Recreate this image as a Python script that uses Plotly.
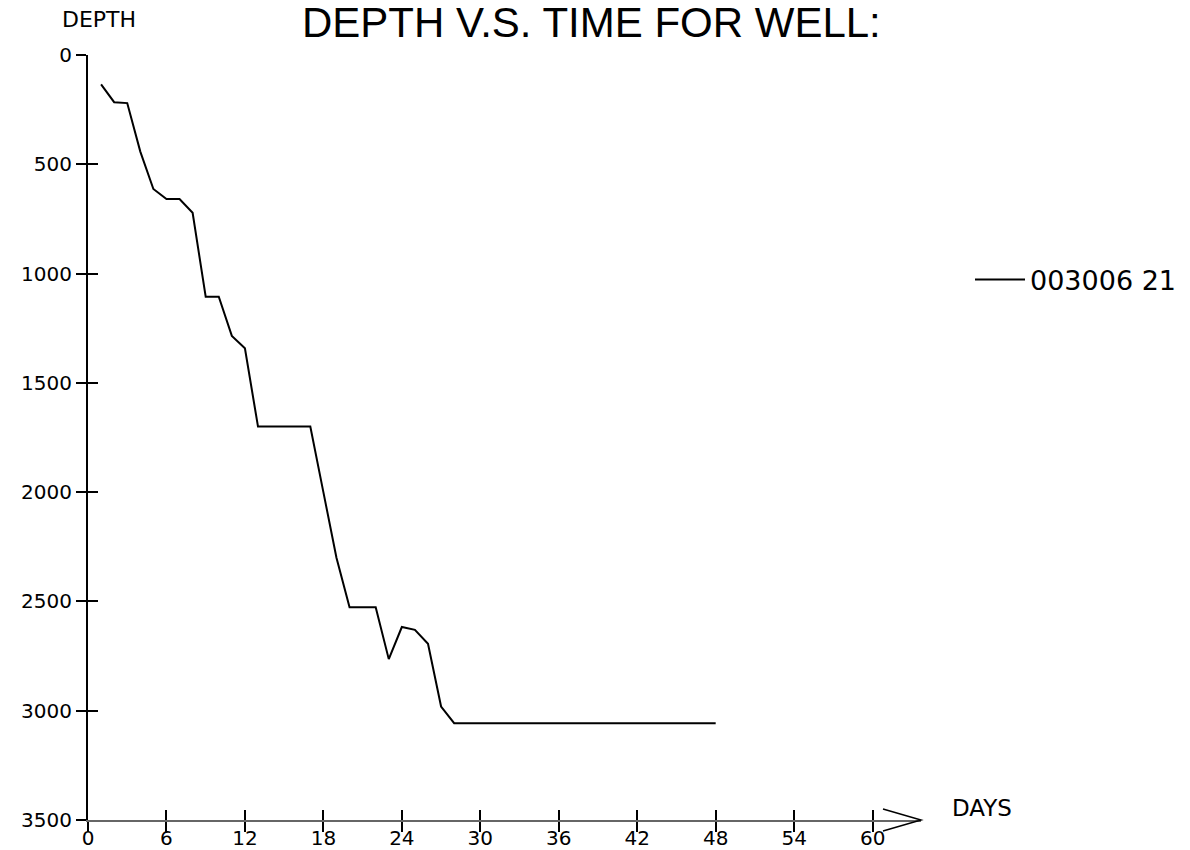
import plotly.graph_objects as go

# ---- data ----
days = list(range(1, 49))
depth = [134, 216, 220, 442, 613, 659, 659, 722, 1106, 1106,
         1285, 1342, 1700, 1700, 1700, 1700, 1700, 2000, 2300, 2527,
         2527, 2527, 2764, 2617, 2630, 2694, 2981, 3057, 3057, 3057,
         3057, 3057, 3057, 3057, 3057, 3057, 3057, 3057, 3057, 3057,
         3057, 3057, 3057, 3057, 3057, 3057, 3057, 3057]
series_name = "003006 21"
x_ticks = [0, 6, 12, 18, 24, 30, 36, 42, 48, 54, 60]
y_ticks = [0, 500, 1000, 1500, 2000, 2500, 3000, 3500]
title_text = "DEPTH V.S. TIME FOR WELL:"
y_label = "DEPTH"
x_label = "DAYS"

W, H = 1190, 850
L, R, T, B = 88, 921, 55, 820  # plot area in pixels
X_MAX = 63.7

def px_x(p):
    return (p - L) / (R - L)

def px_y(p):
    return (B - p) / (B - T)

tick_font = dict(family="DejaVu Sans, Liberation Sans, sans-serif", size=20, color="black")

fig = go.Figure()
fig.add_trace(go.Scatter(x=days, y=depth, mode="lines", name=series_name,
                         line=dict(color="black", width=2)))
# helper trace so the overlaid axes (inner halves of crossing ticks) render
fig.add_trace(go.Scatter(x=[None], y=[None], xaxis="x2", yaxis="y2",
                         showlegend=False, hoverinfo="skip"))

fig.update_layout(
    width=W, height=H,
    margin=dict(l=L, r=W - R, t=T, b=H - B, pad=0, autoexpand=False),
    paper_bgcolor="white", plot_bgcolor="white",
    showlegend=True,
    legend=dict(x=px_x(970), y=px_y(280), xanchor="left", yanchor="middle",
                itemwidth=50,
                font=dict(family="DejaVu Sans, sans-serif", size=27, color="black"),
                bgcolor="rgba(0,0,0,0)", borderwidth=0),
    xaxis=dict(range=[0, X_MAX], tickvals=x_ticks,
               ticks="outside", ticklen=10, tickwidth=1.5, tickcolor="black",
               showticklabels=False,
               showline=True, linecolor="#666", linewidth=1.5, automargin=False,
               showgrid=False, zeroline=False),
    yaxis=dict(range=[3500, 0], tickvals=y_ticks, ticktext=[str(v) for v in y_ticks],
               ticks="outside", ticklen=10, tickwidth=1.5, tickcolor="black",
               showline=True, linecolor="black", linewidth=2, automargin=False,
               showgrid=False, zeroline=False, tickfont=tick_font),
    xaxis2=dict(range=[0, X_MAX], overlaying="x", anchor="y2", side="bottom",
                tickvals=x_ticks, ticktext=[str(v) for v in x_ticks],
                ticks="inside", ticklen=10, tickwidth=1.5,
                tickcolor="black", showticklabels=True, tickfont=tick_font,
                ticklabelstandoff=4, showline=False,
                showgrid=False, zeroline=False, automargin=False),
    yaxis2=dict(range=[3500, 0], overlaying="y", anchor="x2", side="left",
                tickvals=y_ticks, ticks="inside", ticklen=10, tickwidth=1.5,
                tickcolor="black", showticklabels=False, showline=False,
                showgrid=False, zeroline=False, automargin=False),
)

# arrowhead at the end of the time axis
fig.add_shape(type="path", xref="paper", yref="paper",
              path=f"M {px_x(883)} {px_y(809)} L 1 0 L {px_x(883)} {px_y(831)}",
              line=dict(color="black", width=1.5))

fig.add_annotation(text=title_text, xref="paper", yref="paper",
                   x=px_x(591), y=px_y(23), xanchor="center", yanchor="middle",
                   showarrow=False,
                   font=dict(family="Liberation Sans, Arial, sans-serif", size=42, color="black"))
fig.add_annotation(text=y_label, xref="paper", yref="paper",
                   x=px_x(60), y=px_y(20), xanchor="left", yanchor="middle",
                   showarrow=False,
                   font=dict(family="DejaVu Sans, sans-serif", size=22, color="black"))
fig.add_annotation(text=x_label, xref="paper", yref="paper",
                   x=px_x(950), y=px_y(808), xanchor="left", yanchor="middle",
                   showarrow=False,
                   font=dict(family="DejaVu Sans, sans-serif", size=23, color="black"))

fig.write_html("out.html", config={"displayModeBar": False},
               post_script="document.body.style.margin='0';")
